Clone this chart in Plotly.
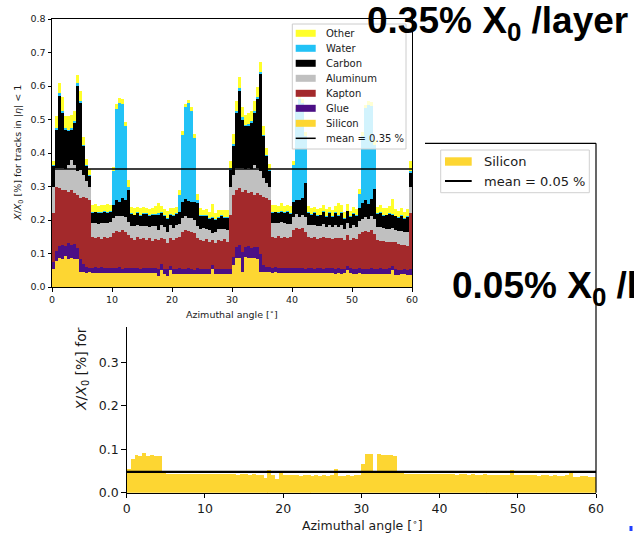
import plotly.graph_objects as go

# ---------------- data ----------------
BIN_WIDTH = 0.5  # degrees per histogram bin, 0..60 deg
angle_centers = [BIN_WIDTH * (i + 0.5) for i in range(120)]

silicon = [
    0.055, 0.078, 0.086, 0.084, 0.092, 0.085, 0.086, 0.084, 0.085, 0.045,
    0.044, 0.043, 0.044, 0.043, 0.042, 0.043, 0.043, 0.042, 0.043, 0.042,
    0.043, 0.042, 0.043, 0.042, 0.042, 0.043, 0.042, 0.042, 0.041, 0.042,
    0.042, 0.041, 0.042, 0.041, 0.041, 0.034, 0.052, 0.040, 0.032, 0.050,
    0.040, 0.040, 0.040, 0.040, 0.039, 0.040, 0.040, 0.039, 0.040, 0.039,
    0.040, 0.039, 0.040, 0.055, 0.038, 0.039, 0.040, 0.039, 0.040, 0.040,
    0.066, 0.088, 0.088, 0.046, 0.090, 0.087, 0.086, 0.087, 0.085, 0.046,
    0.045, 0.044, 0.044, 0.043, 0.044, 0.043, 0.043, 0.042, 0.043, 0.042,
    0.042, 0.043, 0.042, 0.042, 0.041, 0.042, 0.042, 0.041, 0.042, 0.041,
    0.041, 0.042, 0.041, 0.041, 0.040, 0.041, 0.040, 0.041, 0.052, 0.041,
    0.040, 0.040, 0.041, 0.040, 0.040, 0.039, 0.040, 0.040, 0.039, 0.040,
    0.039, 0.039, 0.040, 0.050, 0.036, 0.037, 0.038, 0.038, 0.037, 0.036,
]
glue = [
    0.020, 0.030, 0.036, 0.042, 0.030, 0.046, 0.038, 0.043, 0.030, 0.040,
    0.024, 0.016, 0.014, 0.015, 0.017, 0.013, 0.016, 0.014, 0.015, 0.016,
    0.014, 0.015, 0.017, 0.013, 0.016, 0.015, 0.014, 0.016, 0.015, 0.013,
    0.016, 0.015, 0.014, 0.016, 0.017, 0.020, 0.018, 0.014, 0.022, 0.012,
    0.015, 0.014, 0.016, 0.015, 0.014, 0.016, 0.015, 0.013, 0.016, 0.015,
    0.014, 0.016, 0.015, 0.010, 0.016, 0.015, 0.014, 0.016, 0.015, 0.014,
    0.025, 0.030, 0.036, 0.058, 0.028, 0.034, 0.030, 0.032, 0.035, 0.052,
    0.022, 0.016, 0.015, 0.014, 0.016, 0.015, 0.014, 0.016, 0.015, 0.014,
    0.015, 0.014, 0.016, 0.015, 0.014, 0.016, 0.015, 0.014, 0.016, 0.015,
    0.014, 0.016, 0.015, 0.017, 0.014, 0.016, 0.015, 0.014, 0.012, 0.016,
    0.015, 0.014, 0.016, 0.015, 0.014, 0.015, 0.016, 0.014, 0.015, 0.016,
    0.015, 0.014, 0.016, 0.012, 0.017, 0.015, 0.014, 0.016, 0.015, 0.018,
]
kapton = [
    0.145, 0.192, 0.173, 0.164, 0.168, 0.154, 0.166, 0.153, 0.160, 0.180,
    0.202, 0.206, 0.202, 0.092, 0.086, 0.092, 0.084, 0.094, 0.088, 0.092,
    0.103, 0.111, 0.105, 0.115, 0.105, 0.097, 0.089, 0.082, 0.092, 0.087,
    0.088, 0.084, 0.089, 0.081, 0.086, 0.086, 0.075, 0.088, 0.076, 0.083,
    0.085, 0.091, 0.094, 0.110, 0.117, 0.112, 0.110, 0.108, 0.089, 0.086,
    0.084, 0.087, 0.080, 0.075, 0.076, 0.086, 0.083, 0.087, 0.080, 0.161,
    0.184, 0.172, 0.171, 0.181, 0.172, 0.159, 0.169, 0.156, 0.160, 0.177,
    0.203, 0.205, 0.201, 0.093, 0.085, 0.094, 0.090, 0.092, 0.087, 0.094,
    0.113, 0.118, 0.114, 0.118, 0.110, 0.092, 0.088, 0.095, 0.086, 0.090,
    0.094, 0.087, 0.091, 0.085, 0.093, 0.089, 0.092, 0.086, 0.090, 0.084,
    0.091, 0.088, 0.100, 0.108, 0.112, 0.110, 0.114, 0.105, 0.085, 0.082,
    0.084, 0.080, 0.078, 0.072, 0.080, 0.076, 0.074, 0.072, 0.070, 0.166,
]
aluminum = [
    0.080, 0.055, 0.060, 0.065, 0.062, 0.080, 0.090, 0.085, 0.070, 0.085,
    0.065, 0.050, 0.040, 0.042, 0.046, 0.040, 0.048, 0.041, 0.045, 0.043,
    0.046, 0.044, 0.048, 0.043, 0.047, 0.040, 0.038, 0.042, 0.036, 0.040,
    0.037, 0.041, 0.035, 0.043, 0.038, 0.030, 0.040, 0.036, 0.034, 0.039,
    0.037, 0.040, 0.038, 0.040, 0.042, 0.038, 0.041, 0.039, 0.036, 0.033,
    0.038, 0.030, 0.035, 0.020, 0.034, 0.032, 0.036, 0.031, 0.035, 0.085,
    0.060, 0.065, 0.060, 0.070, 0.062, 0.075, 0.068, 0.090, 0.075, 0.072,
    0.055, 0.045, 0.040, 0.042, 0.045, 0.040, 0.046, 0.041, 0.044, 0.039,
    0.040, 0.042, 0.038, 0.041, 0.045, 0.036, 0.039, 0.034, 0.038, 0.035,
    0.040, 0.033, 0.037, 0.036, 0.039, 0.034, 0.038, 0.032, 0.037, 0.035,
    0.038, 0.036, 0.040, 0.040, 0.043, 0.039, 0.042, 0.045, 0.040, 0.042,
    0.038, 0.041, 0.039, 0.043, 0.037, 0.040, 0.042, 0.038, 0.041, 0.080,
]
carbon = [
    0.060, 0.115, 0.215, 0.165, 0.118, 0.100, 0.090, 0.125, 0.255, 0.200,
    0.085, 0.045, 0.030, 0.030, 0.032, 0.034, 0.030, 0.033, 0.031, 0.030,
    0.039, 0.048, 0.042, 0.052, 0.050, 0.095, 0.035, 0.032, 0.036, 0.030,
    0.034, 0.038, 0.031, 0.035, 0.033, 0.045, 0.036, 0.034, 0.040, 0.032,
    0.035, 0.033, 0.036, 0.048, 0.050, 0.052, 0.047, 0.055, 0.070, 0.038,
    0.035, 0.040, 0.033, 0.045, 0.036, 0.034, 0.039, 0.032, 0.037, 0.050,
    0.085, 0.165, 0.230, 0.145, 0.128, 0.125, 0.137, 0.155, 0.205, 0.288,
    0.125, 0.080, 0.045, 0.030, 0.033, 0.028, 0.032, 0.030, 0.034, 0.029,
    0.045, 0.043, 0.050, 0.049, 0.100, 0.034, 0.031, 0.036, 0.030, 0.033,
    0.035, 0.032, 0.037, 0.030, 0.034, 0.033, 0.036, 0.031, 0.035, 0.032,
    0.034, 0.033, 0.040, 0.048, 0.050, 0.046, 0.052, 0.090, 0.038, 0.042,
    0.036, 0.040, 0.044, 0.039, 0.041, 0.037, 0.043, 0.040, 0.045, 0.040,
]
water = [
    0.005, 0.006, 0.008, 0.006, 0.005, 0.004, 0.006, 0.005, 0.008, 0.006,
    0.004, 0.003, 0.003, 0.003, 0.002, 0.003, 0.003, 0.002, 0.003, 0.003,
    0.100, 0.270, 0.295, 0.280, 0.220, 0.010, 0.003, 0.002, 0.003, 0.003,
    0.003, 0.002, 0.003, 0.003, 0.004, 0.006, 0.003, 0.002, 0.003, 0.003,
    0.003, 0.003, 0.050, 0.200, 0.275, 0.290, 0.272, 0.190, 0.008, 0.003,
    0.003, 0.002, 0.003, 0.004, 0.003, 0.003, 0.002, 0.003, 0.003, 0.005,
    0.006, 0.005, 0.008, 0.006, 0.005, 0.006, 0.005, 0.006, 0.007, 0.006,
    0.005, 0.004, 0.003, 0.003, 0.002, 0.003, 0.003, 0.002, 0.003, 0.003,
    0.110, 0.270, 0.300, 0.285, 0.140, 0.003, 0.002, 0.003, 0.003, 0.002,
    0.003, 0.003, 0.002, 0.003, 0.003, 0.002, 0.003, 0.003, 0.002, 0.003,
    0.003, 0.003, 0.040, 0.200, 0.275, 0.295, 0.275, 0.130, 0.004, 0.003,
    0.003, 0.002, 0.003, 0.003, 0.002, 0.003, 0.003, 0.002, 0.003, 0.006,
]
other = [
    0.012, 0.035, 0.030, 0.040, 0.035, 0.040, 0.038, 0.030, 0.025, 0.030,
    0.025, 0.020, 0.018, 0.020, 0.022, 0.018, 0.021, 0.019, 0.023, 0.020,
    0.012, 0.015, 0.014, 0.016, 0.012, 0.020, 0.018, 0.020, 0.017, 0.021,
    0.019, 0.016, 0.020, 0.018, 0.022, 0.030, 0.017, 0.020, 0.019, 0.018,
    0.021, 0.017, 0.015, 0.012, 0.010, 0.010, 0.012, 0.014, 0.018, 0.021,
    0.017, 0.020, 0.019, 0.040, 0.018, 0.020, 0.017, 0.021, 0.019, 0.020,
    0.030, 0.030, 0.035, 0.030, 0.028, 0.032, 0.030, 0.028, 0.030, 0.030,
    0.025, 0.020, 0.018, 0.020, 0.021, 0.019, 0.022, 0.018, 0.020, 0.021,
    0.012, 0.010, 0.010, 0.012, 0.014, 0.018, 0.020, 0.017, 0.019, 0.021,
    0.018, 0.020, 0.017, 0.019, 0.018, 0.035, 0.020, 0.018, 0.020, 0.017,
    0.019, 0.018, 0.015, 0.012, 0.010, 0.010, 0.012, 0.014, 0.018, 0.020,
    0.022, 0.019, 0.021, 0.045, 0.020, 0.018, 0.021, 0.019, 0.022, 0.030,
]

mean_all = 0.352        # "mean = 0.35 %"
mean_silicon = 0.048    # "mean = 0.05 %"

material_names = ["Silicon", "Glue", "Kapton", "Aluminum", "Carbon", "Water", "Other"]
material_values = [silicon, glue, kapton, aluminum, carbon, water, other]
material_colors = ["#fdd632", "#4b0f85", "#a3292b", "#c0c0c0", "#000000", "#22c2f6", "#ffff2a"]

x_ticks = [0, 10, 20, 30, 40, 50, 60]
y_ticks_top = [0.0, 0.1, 0.2, 0.3, 0.4, 0.5, 0.6, 0.7, 0.8]
y_ticks_bottom = [0.0, 0.1, 0.2, 0.3]

headline_top = "<b>0.35% X<sub>0</sub> /layer</b>"
headline_bottom = "<b>0.05% X<sub>0</sub> /layer</b>"

# ---------------- layout helpers (pixel -> paper) ----------------
W, H = 634, 542


def px(x):
    return x / W


def py(y):
    return 1 - y / H


AX_FONT = "DejaVu Sans"
TXT = "#1a1a1a"

fig = go.Figure()

# top stacked histogram
for name, vals, col in zip(material_names, material_values, material_colors):
    fig.add_trace(go.Bar(
        x=angle_centers, y=vals, width=BIN_WIDTH * 1.01, name=name,
        marker=dict(color=col, line=dict(width=0)),
        xaxis="x", yaxis="y", showlegend=False, hoverinfo="skip"))
fig.add_trace(go.Scatter(
    x=[x_ticks[0], x_ticks[-1]], y=[mean_all, mean_all], mode="lines",
    line=dict(color="black", width=1.5), xaxis="x", yaxis="y",
    showlegend=False, hoverinfo="skip"))

# bottom silicon-only histogram
fig.add_trace(go.Bar(
    x=angle_centers, y=silicon, width=BIN_WIDTH * 1.01, name="Silicon",
    marker=dict(color=material_colors[0], line=dict(width=0)),
    xaxis="x2", yaxis="y2", showlegend=False, hoverinfo="skip"))
fig.add_trace(go.Scatter(
    x=[x_ticks[0], x_ticks[-1]], y=[mean_silicon, mean_silicon], mode="lines",
    line=dict(color="black", width=2.2), xaxis="x2", yaxis="y2",
    showlegend=False, hoverinfo="skip"))

common_axis = dict(showgrid=False, zeroline=False, showline=True, linecolor="black",
                   linewidth=1, ticks="outside", tickcolor="black", tickwidth=1,
                   automargin=False)

fig.update_layout(
    template="none",
    width=W, height=H, margin=dict(l=0, r=0, t=0, b=0, pad=0, autoexpand=False),
    paper_bgcolor="white", plot_bgcolor="rgba(0,0,0,0)",
    barmode="stack", bargap=0, showlegend=False,
    font=dict(family=AX_FONT, color=TXT),
    xaxis=dict(common_axis, domain=[px(52), px(412)], range=[0, 60], anchor="y",
               mirror=True, ticklen=3.5, tickvals=x_ticks,
               ticktext=[str(t) for t in x_ticks],
               tickfont=dict(size=9.5, family=AX_FONT, color=TXT)),
    yaxis=dict(common_axis, domain=[py(287), py(19)], range=[0, 0.8], anchor="x",
               mirror=True, ticklen=3.5, tickvals=y_ticks_top,
               ticktext=["%.1f" % t for t in y_ticks_top],
               tickfont=dict(size=9.5, family=AX_FONT, color=TXT)),
    xaxis2=dict(common_axis, domain=[px(126.7), px(596)], range=[0, 60], anchor="y2",
                ticklen=4.5, tickvals=x_ticks, ticktext=[str(t) for t in x_ticks],
                tickfont=dict(size=12.5, family=AX_FONT, color=TXT)),
    yaxis2=dict(common_axis, domain=[py(492.7), py(326.7)],
                range=[0, 0.8 * (492.7 - 326.7) / (492.7 - 144.7)], anchor="x2",
                ticklen=4.5, tickvals=y_ticks_bottom,
                ticktext=["%.1f" % t for t in y_ticks_bottom],
                tickfont=dict(size=12.5, family=AX_FONT, color=TXT)),
)

shapes = []
annotations = []

# ---- top legend (matplotlib style) ----
shapes.append(dict(type="rect", xref="paper", yref="paper",
                   x0=px(292.3), x1=px(406), y0=py(149), y1=py(24),
                   fillcolor="rgba(255,255,255,0.8)",
                   line=dict(color="#cccccc", width=1)))
legend_order = ["Other", "Water", "Carbon", "Aluminum", "Kapton", "Glue", "Silicon"]
for k, name in enumerate(legend_order):
    cy = 33.3 + 15.0 * k
    col = material_colors[material_names.index(name)]
    shapes.append(dict(type="rect", xref="paper", yref="paper",
                       x0=px(295.7), x1=px(315.7), y0=py(cy + 3.5), y1=py(cy - 3.5),
                       fillcolor=col, line=dict(width=0)))
    annotations.append(dict(text=name, xref="paper", yref="paper",
                            x=px(324.3), y=py(cy), xanchor="left", yanchor="middle",
                            showarrow=False, font=dict(size=10, family=AX_FONT, color=TXT)))
cy = 33.3 + 15.0 * 7
shapes.append(dict(type="line", xref="paper", yref="paper",
                   x0=px(295.7), x1=px(315.7), y0=py(cy), y1=py(cy),
                   line=dict(color="black", width=1.5)))
annotations.append(dict(text="mean = %.2f %%" % round(mean_all, 2), xref="paper", yref="paper",
                        x=px(324.3), y=py(cy), xanchor="left", yanchor="middle",
                        showarrow=False, font=dict(size=10, family=AX_FONT, color=TXT)))

# ---- bottom chart spines (right and top, partly hidden) ----
shapes.append(dict(type="line", xref="paper", yref="paper",
                   x0=px(596), x1=px(596), y0=py(492.7), y1=py(143.3),
                   line=dict(color="black", width=1.2)))
shapes.append(dict(type="line", xref="paper", yref="paper",
                   x0=px(425), x1=px(596), y0=py(143.3), y1=py(143.3),
                   line=dict(color="black", width=1.2)))

# ---- bottom legend ----
shapes.append(dict(type="rect", xref="paper", yref="paper",
                   x0=px(440.7), x1=px(589.3), y0=py(192.7), y1=py(150),
                   fillcolor="rgba(255,255,255,0.8)",
                   line=dict(color="#d0d0d0", width=1)))
shapes.append(dict(type="rect", xref="paper", yref="paper",
                   x0=px(445), x1=px(471.7), y0=py(165.7), y1=py(157.3),
                   fillcolor=material_colors[0], line=dict(width=0)))
shapes.append(dict(type="line", xref="paper", yref="paper",
                   x0=px(445), x1=px(471.7), y0=py(181), y1=py(181),
                   line=dict(color="black", width=2)))
annotations.append(dict(text="Silicon", xref="paper", yref="paper",
                        x=px(482.3), y=py(161.5), xanchor="left", yanchor="middle",
                        showarrow=False, font=dict(size=13, family=AX_FONT, color=TXT)))
annotations.append(dict(text="mean = %.2f %%" % round(mean_silicon, 2), xref="paper", yref="paper",
                        x=px(482.3), y=py(181), xanchor="left", yanchor="middle",
                        showarrow=False, font=dict(size=13, family=AX_FONT, color=TXT)))

# small blue mark at the lower right
shapes.append(dict(type="rect", xref="paper", yref="paper",
                   x0=px(629.5), x1=px(632.5), y0=py(531), y1=py(526),
                   fillcolor="#1f3fff", line=dict(width=0)))

# ---- axis titles ----
annotations.append(dict(text="Azimuthal angle [<sup>∘</sup>]", xref="paper", yref="paper",
                        x=px(232), y=py(313.5), xanchor="center", yanchor="middle",
                        showarrow=False, font=dict(size=9.5, family=AX_FONT, color=TXT)))
annotations.append(dict(text="<i>X</i>/<i>X</i><sub>0</sub> [%] for tracks in |<i>η</i>| &lt; 1",
                        xref="paper", yref="paper", x=px(18), y=py(153),
                        xanchor="center", yanchor="middle", textangle=-90,
                        showarrow=False, font=dict(size=9.5, family=AX_FONT, color=TXT)))
annotations.append(dict(text="Azimuthal angle [<sup>∘</sup>]", xref="paper", yref="paper",
                        x=px(362), y=py(525), xanchor="center", yanchor="middle",
                        showarrow=False, font=dict(size=12.5, family=AX_FONT, color=TXT)))
annotations.append(dict(text="<i>X</i>/<i>X</i><sub>0</sub> [%] for",
                        xref="paper", yref="paper", x=px(82), y=py(413),
                        xanchor="center", yanchor="bottom", textangle=-90,
                        showarrow=False, font=dict(size=14, family=AX_FONT, color=TXT)))

# ---- big slide headlines ----
annotations.append(dict(text=headline_top, xref="paper", yref="paper",
                        x=px(365), y=py(-2), xanchor="left", yanchor="top",
                        showarrow=False, font=dict(size=37, family="Liberation Sans", color="black")))
annotations.append(dict(text=headline_bottom, xref="paper", yref="paper",
                        x=px(450), y=py(263), xanchor="left", yanchor="top",
                        showarrow=False, font=dict(size=37, family="Liberation Sans", color="black")))

fig.update_layout(shapes=shapes, annotations=annotations)

# the page's default body margin would shift the 634x542 figure; remove it
fig.write_html("out.html", config={"displayModeBar": False, "staticPlot": True},
               post_script="document.body.style.margin='0';")
